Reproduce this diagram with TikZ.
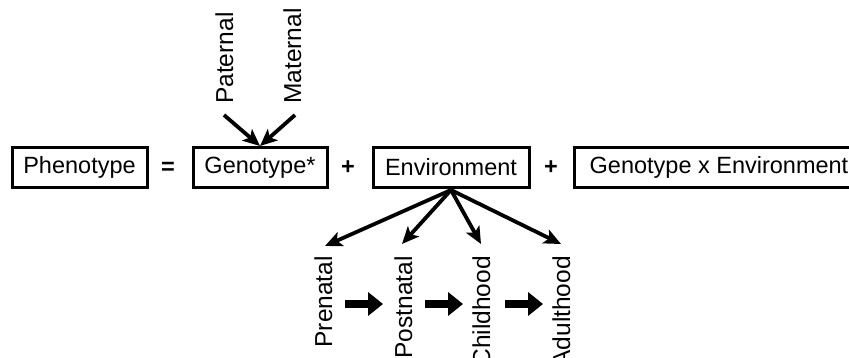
\documentclass[tikz,border=0pt]{standalone}
\usepackage{fontspec}
\setmainfont{Liberation Sans}
\usetikzlibrary{arrows.meta}
\begin{document}
\begin{tikzpicture}[x=1pt,y=-1pt,
  txt/.style={font=\fontsize{23.5}{28}\selectfont},
  box/.style={txt,draw,line width=3pt,minimum height=40pt,inner sep=0pt},
  lbl/.style={font=\fontsize{24.5}{29}\selectfont,inner sep=0pt,rotate=90},
  op/.style={font=\bfseries\fontsize{23.5}{28}\selectfont,inner sep=0pt},
  arr/.style={line width=3.8pt,-{Stealth[length=17pt,width=15pt,inset=4pt]}},
  blk/.style={line width=8pt,-{Triangle[length=15pt,width=23pt]}}]
\clip (0,0) rectangle (849,358);
% boxes
\node[box,minimum width=135pt] (phen) at (79.5,167.5) {Phenotype};
\node[op] (eq) at (168,168) {=};
\node[box,minimum width=134pt] (gen) at (260,167.5) {Genotype*};
\node[op] (p1) at (348,168) {+};
\node[box,minimum width=156pt] (env) at (451,167.5) {Environment};
\node[op] (p2) at (551,168) {+};
\node[box,minimum width=290pt] (gxe) at (719,167.5) {Genotype x Environment};
% parental labels
\node[lbl,anchor=base west] (pat) at (233,104) {Paternal};
\node[lbl,anchor=base west] (mat) at (301,104) {Maternal};
\coordinate (patend) at (224,115);
\coordinate (matend) at (295,115);
\draw[arr] (patend) -- (gen.north);
\draw[arr] (matend) -- (gen.north);
% developmental labels
\node[lbl,anchor=base east] (pre) at (332,256) {Prenatal};
\node[lbl,anchor=base east] (post) at (412,256) {Postnatal};
\node[lbl,anchor=base east] (child) at (490,256) {Childhood};
\node[lbl,anchor=base east] (adult) at (570,256) {Adulthood};
\coordinate (tpre) at (325,246);
\coordinate (tpost) at (402,244);
\coordinate (tchild) at (481,244);
\coordinate (tadult) at (561,244);
\coordinate (envfoot) at (451,190);
\draw[arr] (envfoot) -- (tpre);
\draw[arr] (envfoot) -- (tpost);
\draw[arr] (envfoot) -- (tchild);
\draw[arr] (envfoot) -- (tadult);
% sequence arrows
\coordinate (a1s) at (345,304); \coordinate (a1e) at (383,304);
\coordinate (a2s) at (425,304); \coordinate (a2e) at (463,304);
\coordinate (a3s) at (505,304); \coordinate (a3e) at (543,304);
\draw[blk] (a1s) -- (a1e);
\draw[blk] (a2s) -- (a2e);
\draw[blk] (a3s) -- (a3e);
\end{tikzpicture}
\end{document}
